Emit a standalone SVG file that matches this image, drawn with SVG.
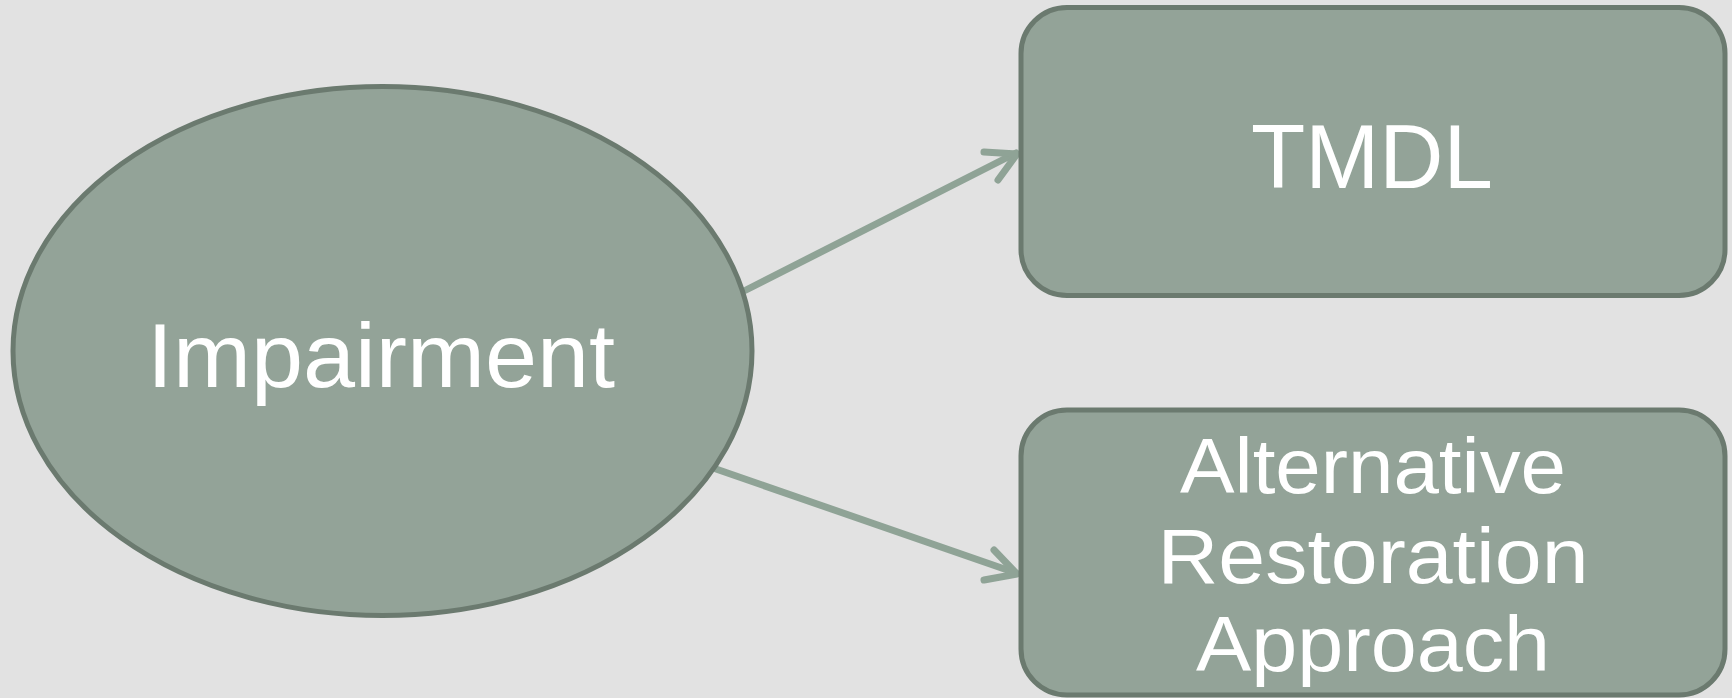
<svg xmlns="http://www.w3.org/2000/svg" width="1732" height="698" viewBox="0 0 1732 698">
<style>
.node{fill:#93a398;stroke:#6b7a6f;stroke-width:5}
.lbl{font-family:"Liberation Sans",Arial,sans-serif;fill:#ffffff;text-anchor:middle}
.conn{stroke:#8fa396;stroke-width:7;fill:none;stroke-linecap:round;stroke-linejoin:round}
</style>
<rect width="1732" height="698" fill="#e2e2e2"/>
<g id="connectors">
<path class="conn" d="M746,290 L1016,153"/>
<path class="conn" d="M984,152 L1017,154 L998,180"/>
<path class="conn" d="M716,469 L1016,573"/>
<path class="conn" d="M994,550 L1017,574 L984,580"/>
</g>
<g id="impairment">
<ellipse class="node" cx="382.5" cy="351" rx="369.5" ry="264.5"/>
<text class="lbl" x="381" y="387" font-size="90" textLength="468" lengthAdjust="spacingAndGlyphs">Impairment</text>
</g>
<g id="tmdl">
<rect class="node" x="1021" y="7.5" width="704" height="288" rx="46"/>
<text class="lbl" x="1372" y="188" font-size="90" textLength="242" lengthAdjust="spacingAndGlyphs">TMDL</text>
</g>
<g id="alternative">
<rect class="node" x="1021" y="410" width="704" height="285" rx="46"/>
<text class="lbl" x="1373" y="493" font-size="78" textLength="386" lengthAdjust="spacingAndGlyphs">Alternative</text>
<text class="lbl" x="1373" y="583" font-size="78" textLength="431" lengthAdjust="spacingAndGlyphs">Restoration</text>
<text class="lbl" x="1373" y="671" font-size="78" textLength="354" lengthAdjust="spacingAndGlyphs">Approach</text>
</g>
</svg>
